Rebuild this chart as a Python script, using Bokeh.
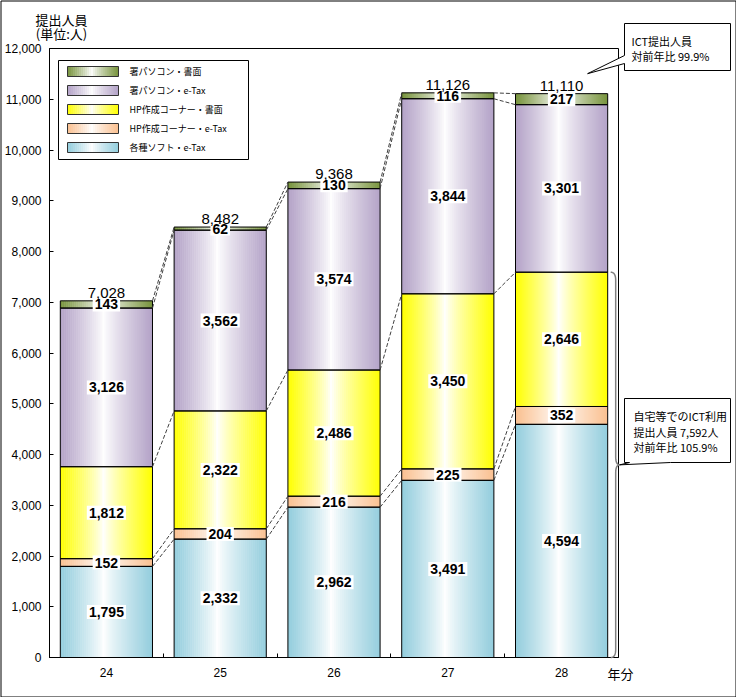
import numpy as np
from bokeh.plotting import figure
from bokeh.models import Range1d, FixedTicker, NumeralTickFormatter
from bokeh.core.properties import value
from bokeh.embed import file_html
from bokeh.resources import INLINE

# ---------------- data ----------------
years = ["24", "25", "26", "27", "28"]
series_names = ["各種ソフト・e-Tax", "HP作成コーナー・e-Tax", "HP作成コーナー・書面",
                "署パソコン・e-Tax", "署パソコン・書面"]
soft_etax = [1795, 2332, 2962, 3491, 4594]
hp_etax = [152, 204, 216, 225, 352]
hp_paper = [1812, 2322, 2486, 3450, 2646]
pc_etax = [3126, 3562, 3574, 3844, 3301]
pc_paper = [143, 62, 130, 116, 217]
y_ticks = list(range(0, 12001, 1000))
series_colors = ["#93CDDD", "#FAC090", "#FFFF00", "#B3A2C7", "#77933C"]
x_unit_label = "年分"
y_title = ["提出人員", "(単位:人)"]

series = [soft_etax, hp_etax, hp_paper, pc_etax, pc_paper]
n_cat = len(years)
cum = np.cumsum(np.array(series), axis=0)  # shape (5 series, n_cat)
totals = cum[-1]

# ---------------- layout ----------------
W, H = 736, 697
FL, FR, FT, FB = 49, 618, 48, 657
YMAX = 12000
p = figure(width=W, height=H, x_range=Range1d(-0.5, n_cat - 0.5), y_range=Range1d(0, YMAX),
           output_backend="svg", toolbar_location=None,
           min_border_left=FL, min_border_right=W - FR, min_border_top=FT, min_border_bottom=H - FB)
p.outline_line_color = "black"
p.outline_line_width = 1
p.xgrid.visible = False
p.ygrid.visible = False
p.background_fill_color = "white"
p.border_fill_color = "white"

PXX = n_cat / (FR - FL)      # data units per px (x)
PXY = YMAX / (FB - FT)       # data units per px (y)
JP = value("Noto Sans CJK JP")


def X(px):
    return -0.5 + (px - FL) * PXX


def Y(py):
    return (FB - py) * PXY


def mix(c, w):
    c = c.lstrip("#")
    r, g, b = int(c[0:2], 16), int(c[2:4], 16), int(c[4:6], 16)
    r = int(round(255 + (r - 255) * w))
    g = int(round(255 + (g - 255) * w))
    b = int(round(255 + (b - 255) * w))
    return "#%02x%02x%02x" % (r, g, b)


def grad_strips(x0, x1, y0, y1, color, n, L, R, B, T, C):
    step = (x1 - x0) / n
    for k in range(n):
        t = (k + 0.5) / n
        w = min(1.0, abs(t - 0.47) / (0.53 if t > 0.47 else 0.47))
        w = w ** 0.85
        left = x0 + k * step
        right = min(x1, left + step * 1.25)
        L.append(left); R.append(right); B.append(y0); T.append(y1); C.append(mix(color, w))


# ---------------- axes ----------------
p.xaxis.ticker = FixedTicker(ticks=list(range(n_cat)), minor_ticks=[i + 0.5 for i in range(n_cat - 1)])
p.xaxis.major_label_overrides = {i: y for i, y in enumerate(years)}
p.xaxis.major_tick_in = 0
p.xaxis.major_tick_out = 0
p.xaxis.minor_tick_in = 4
p.xaxis.minor_tick_out = 0
p.xaxis.major_label_standoff = 10
p.xaxis.major_label_text_font = "Liberation Sans"
p.xaxis.major_label_text_font_size = "12px"
p.xaxis.major_label_text_color = "black"
p.xaxis.axis_line_color = "black"
p.xaxis.minor_tick_line_color = "black"

p.yaxis.ticker = FixedTicker(ticks=y_ticks, minor_ticks=[])
p.yaxis.formatter = NumeralTickFormatter(format="0,0")
p.yaxis.major_tick_in = 4
p.yaxis.major_tick_out = 0
p.yaxis.minor_tick_in = 0
p.yaxis.minor_tick_out = 0
p.yaxis.major_label_standoff = 8
p.yaxis.major_label_text_font = "Liberation Sans"
p.yaxis.major_label_text_font_size = "12px"
p.yaxis.major_label_text_color = "black"
p.yaxis.axis_line_color = "black"
p.yaxis.major_tick_line_color = "black"

# ---------------- bars (gradient) ----------------
BW = 0.81
L, R, B, T, C = [], [], [], [], []
for s in range(len(series)):
    for i in range(n_cat):
        y0 = cum[s - 1][i] if s > 0 else 0
        y1 = cum[s][i]
        grad_strips(i - BW / 2, i + BW / 2, y0, y1, series_colors[s], 46, L, R, B, T, C)
p.quad(left=L, right=R, bottom=B, top=T, fill_color=C, line_color=None)

ol_l, ol_r, ol_b, ol_t = [], [], [], []
for s in range(len(series)):
    for i in range(n_cat):
        ol_l.append(i - BW / 2); ol_r.append(i + BW / 2)
        ol_b.append(cum[s - 1][i] if s > 0 else 0); ol_t.append(cum[s][i])
p.quad(left=ol_l, right=ol_r, bottom=ol_b, top=ol_t, fill_color=None, line_color="black", line_width=1)

# ---------------- series lines ----------------
sx0, sy0, sx1, sy1 = [], [], [], []
for s in range(len(series)):
    for i in range(n_cat - 1):
        sx0.append(i + BW / 2); sy0.append(cum[s][i])
        sx1.append(i + 1 - BW / 2); sy1.append(cum[s][i + 1])
p.segment(x0=sx0, y0=sy0, x1=sx1, y1=sy1, line_color="#404040", line_width=1, line_dash="4 2")

# ---------------- value labels ----------------
lx, ly, lt = [], [], []
for s in range(len(series)):
    for i in range(n_cat):
        y0 = cum[s - 1][i] if s > 0 else 0
        lx.append(i); ly.append((y0 + cum[s][i]) / 2); lt.append(f"{series[s][i]:,}")
p.text(x=lx, y=ly, text=lt, text_align="center", text_baseline="middle",
       text_font=value("Liberation Sans"), text_font_size="14px", text_font_style="bold",
       text_color="black", background_fill_color="white", padding=2)

p.text(x=list(range(n_cat)), y=list(totals), text=[f"{t:,}" for t in totals],
       text_align="center", text_baseline="bottom", y_offset=-3,
       text_font=value("Liberation Sans"), text_font_size="15px", text_color="black")

# ---------------- legend ----------------
p.quad(left=[X(58)], right=[X(248)], bottom=[Y(159)], top=[Y(60)],
       fill_color="white", line_color="black", line_width=1)
gl, gr, gb, gt, gc = [], [], [], [], []
sl, sr, sb, st = [], [], [], []
leg_x, leg_y, leg_t = [], [], []
for j, s in enumerate(reversed(range(len(series)))):
    cy = 71 + j * 19
    grad_strips(X(67), X(118), Y(cy + 5), Y(cy - 5), series_colors[s], 26, gl, gr, gb, gt, gc)
    sl.append(X(67)); sr.append(X(118)); sb.append(Y(cy + 5)); st.append(Y(cy - 5))
    leg_x.append(X(129)); leg_y.append(Y(cy)); leg_t.append(series_names[s])
p.quad(left=gl, right=gr, bottom=gb, top=gt, fill_color=gc, line_color=None)
p.quad(left=sl, right=sr, bottom=sb, top=st, fill_color=None, line_color="#333333", line_width=1)
p.text(x=leg_x, y=leg_y, text=leg_t, text_align="left", text_baseline="middle",
       text_font=JP, text_font_size="9px", text_color="black")

# ---------------- brace around ICT part of last bar ----------------
ict_last = cum[2][-1]
xe = (n_cat - 1) + BW / 2


def qbez(p0, p1, p2, n=10):
    t = np.linspace(0, 1, n)
    xs = (1 - t) ** 2 * p0[0] + 2 * (1 - t) * t * p1[0] + t ** 2 * p2[0]
    ys = (1 - t) ** 2 * p0[1] + 2 * (1 - t) * t * p1[1] + t ** 2 * p2[1]
    return list(xs), list(ys)


ymid = ict_last / 2
dx = PXX
dy = PXY
pts_x, pts_y = [], []
for seg in [((xe + 3 * dx, ict_last), (xe + 8 * dx, ict_last), (xe + 8 * dx, ict_last - 8 * dy)),
            ((xe + 8 * dx, ymid + 8 * dy), (xe + 8 * dx, ymid), (xe + 12 * dx, ymid)),
            ((xe + 12 * dx, ymid), (xe + 8 * dx, ymid), (xe + 8 * dx, ymid - 8 * dy)),
            ((xe + 8 * dx, 8 * dy), (xe + 8 * dx, 0), (xe + 3 * dx, 0))]:
    xs_, ys_ = qbez(*seg)
    pts_x += xs_; pts_y += ys_
p.line(pts_x, pts_y, line_color="#808080", line_width=1.5, level="overlay")

# ---------------- callouts ----------------
ict_prev = cum[2][-2]
ict_ratio = ict_last / ict_prev * 100
tot_ratio = totals[-1] / totals[-2] * 100

tip1 = (n_cat - 1 + 26 * dx, totals[-1] + 20 * dy)
p.patch(x=[X(624), X(730), X(730), X(624), X(624), tip1[0], X(624)],
        y=[Y(23), Y(23), Y(70), Y(70), Y(63), tip1[1], Y(55)],
        fill_color="white", line_color="black", line_width=1, level="overlay")
tip2 = (xe + 12 * dx, ymid)
p.patch(x=[X(624), X(730), X(730), X(670), tip2[0], X(629), X(624)],
        y=[Y(398), Y(398), Y(462), Y(462), tip2[1], Y(462), Y(462)],
        fill_color="white", line_color="black", line_width=1, level="overlay")

callout_lines = [
    (631, 40, "ICT提出人員"),
    (631, 55, f"対前年比 {tot_ratio:.1f}%"),
    (633, 415, "自宅等でのICT利用"),
    (633, 431, f"提出人員 {ict_last:,}人"),
    (633, 446, f"対前年比 {ict_ratio:.1f}%"),
]
p.text(x=[X(c[0]) for c in callout_lines], y=[Y(c[1]) for c in callout_lines],
       text=[c[2] for c in callout_lines], text_align="left", text_baseline="middle",
       text_font=JP, text_font_size="11px", text_color="black", level="overlay")

# ---------------- titles ----------------
p.text(x=[X(61), X(61), X(620)], y=[Y(19), Y(33), Y(673)],
       text=[y_title[0], y_title[1], x_unit_label], text_align="center", text_baseline="middle",
       text_font=JP, text_font_size="13px", text_color="black", level="overlay")

# outer border of the chart area
p.quad(left=[X(0.5)], right=[X(735.5)], bottom=[Y(696.5)], top=[Y(0.5)],
       fill_color=None, line_color="black", line_width=1, level="overlay")

open("out.html", "w").write(file_html(p, INLINE))
